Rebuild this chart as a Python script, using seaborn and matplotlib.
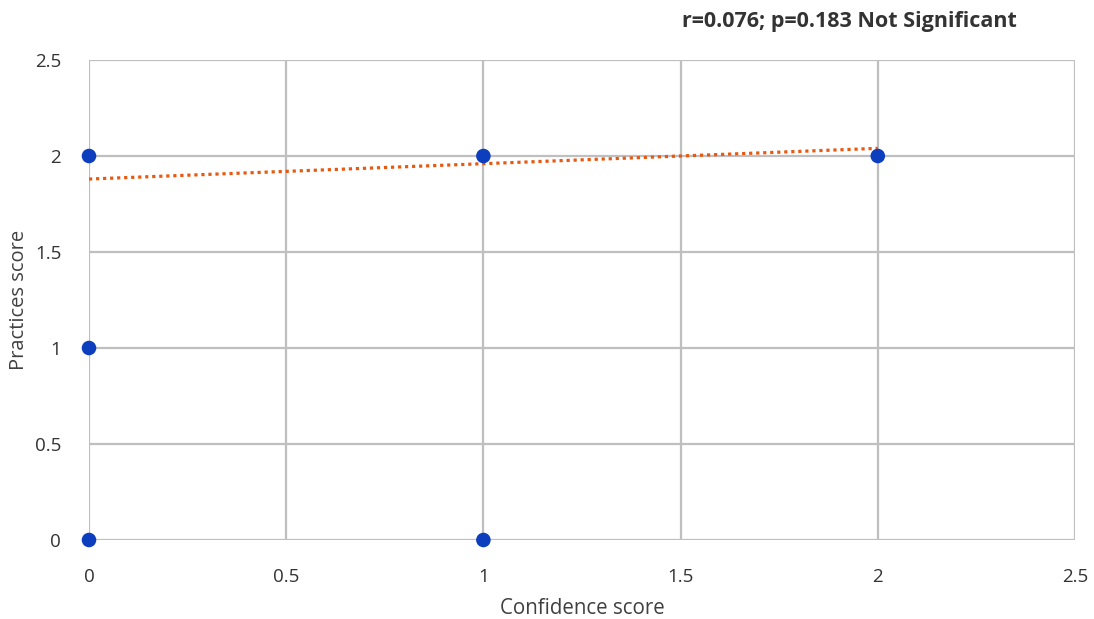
import matplotlib
matplotlib.use("Agg")
import matplotlib.pyplot as plt
import seaborn as sns
import pandas as pd

confidence = [0, 0, 0, 1, 1, 2]
practices = [0, 1, 2, 0, 2, 2]
trend_x = [0, 2]
trend_y = [1.88, 2.04]
ticks = [0, 0.5, 1, 1.5, 2, 2.5]
tick_labels = ["0", "0.5", "1", "1.5", "2", "2.5"]
title = "r=0.076; p=0.183 Not Significant"

sns.set_theme(style="white")
plt.rcParams['font.family'] = ['Open Sans', 'DejaVu Sans']

df = pd.DataFrame({"Confidence score": confidence, "Practices score": practices})

fig = plt.figure(figsize=(10.94, 6.19), dpi=100)
ax = fig.add_axes([89/1094, 79/619, (1075-89)/1094, (540-60)/619])

sns.lineplot(x=trend_x, y=trend_y, ax=ax, color="#E8580F", linestyle=(0, (1, 1.2)),
             linewidth=2.3, zorder=3)
sns.scatterplot(data=df, x="Confidence score", y="Practices score", ax=ax,
                color="#0D3EBD", s=110, edgecolor="none", zorder=4, clip_on=False)

ax.set_xlim(0, 2.5)
ax.set_ylim(0, 2.5)
ax.set_xticks(ticks)
ax.set_xticklabels(tick_labels)
ax.set_yticks(ticks)
ax.set_yticklabels(tick_labels)
ax.grid(True, color="#BFBFBF", linewidth=1.6)
ax.set_axisbelow(True)
for s in ax.spines.values():
    s.set_visible(False)
ax.tick_params(axis="both", length=0, labelsize=13.5, labelcolor="#333333")
ax.tick_params(axis="x", pad=20)
ax.tick_params(axis="y", pad=20)
ax.set_xlabel("Confidence score", fontsize=14.8, color="#404040", labelpad=9)
ax.set_ylabel("Practices score", fontsize=14.5, color="#404040", labelpad=4)

fig.text(1017/1094, 1 - 21/619, title, ha="right", va="center", fontsize=15.5,
         fontweight="bold", color="#333333")

fig.savefig("out.png", dpi=100)
